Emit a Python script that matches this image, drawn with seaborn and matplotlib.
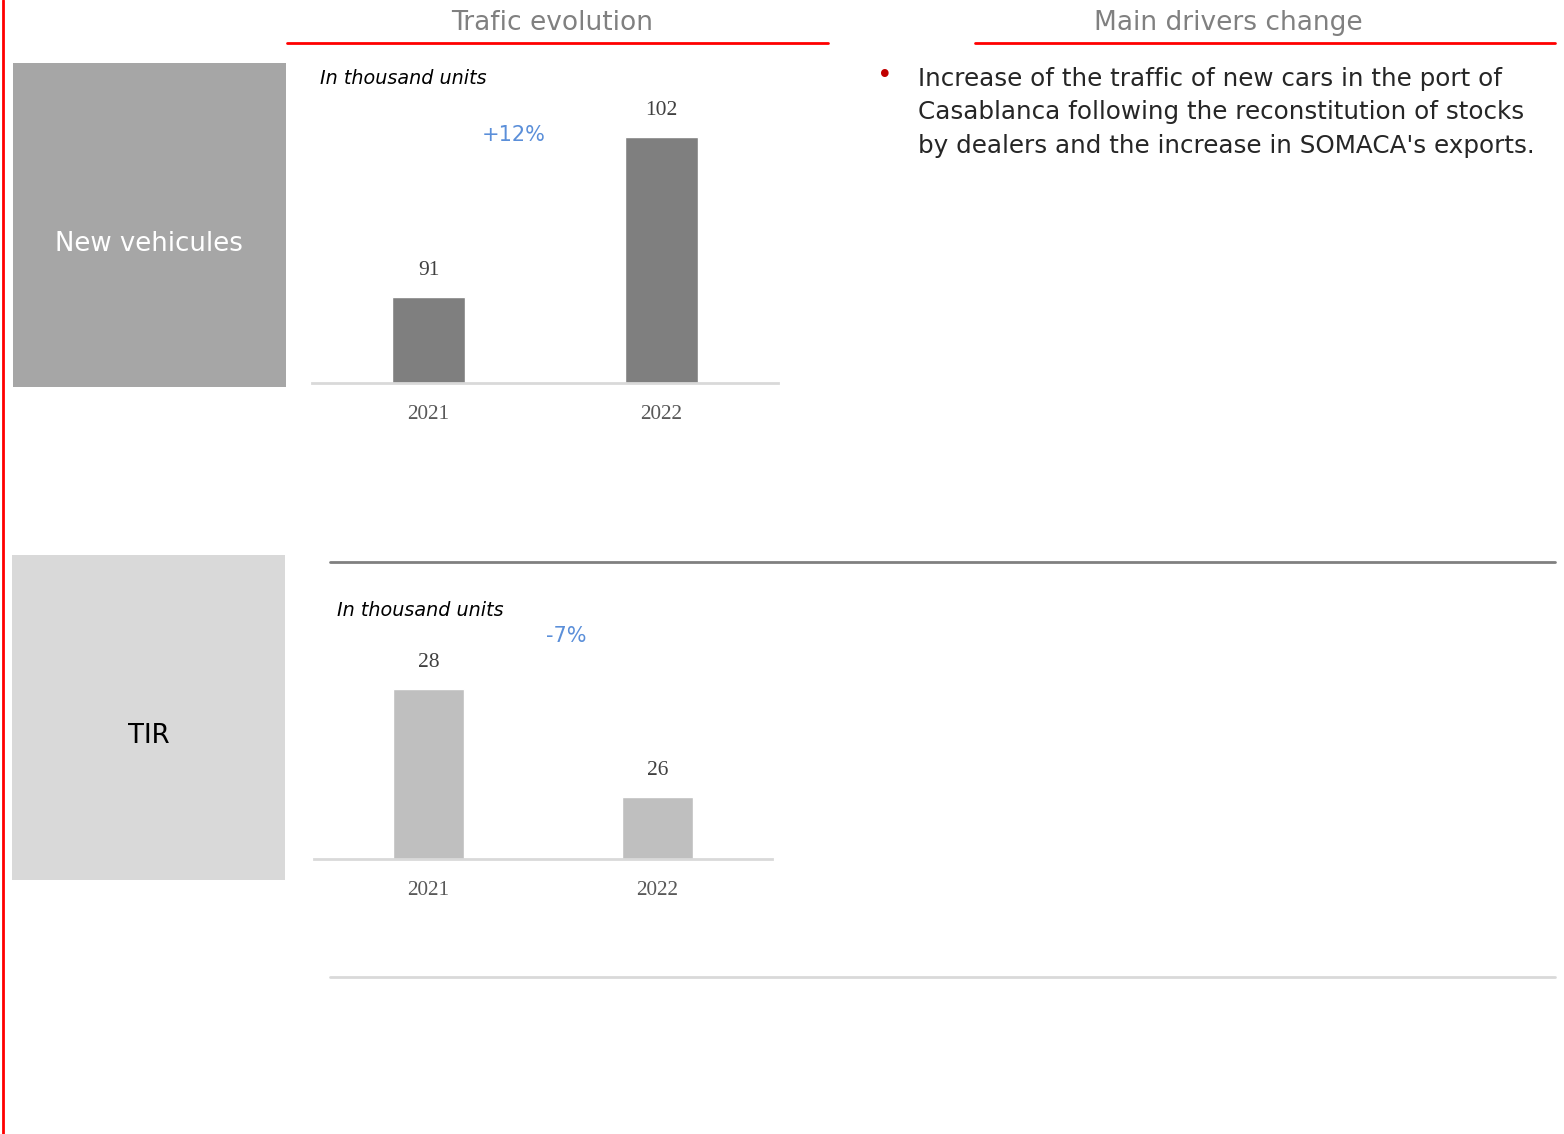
import matplotlib
matplotlib.use("Agg")
import matplotlib.pyplot as plt
import seaborn as sns
from matplotlib.patches import Rectangle
from matplotlib.lines import Line2D

sns.set_theme(style="white")
plt.rcParams['font.family'] = ['DejaVu Sans']

# ---- data ----
years = ["2021", "2022"]
new_vehicles = [91, 102]
tir = [28, 26]
new_veh_change = "+12%"
tir_change = "-7%"
header_left = "Trafic evolution"
header_right = "Main drivers change"
unit_label = "In thousand units"
row_labels = ["New vehicules", "TIR"]
driver_lines = ["Increase of the traffic of new cars in the port of",
                "Casablanca following the reconstitution of stocks",
                "by dealers and the increase in SOMACA's exports."]

W, H = 1564, 1134
fig = plt.figure(figsize=(W / 100, H / 100), dpi=100)

# background overlay in pixel coordinates
bg = fig.add_axes([0, 0, 1, 1], zorder=0)
bg.set_xlim(0, W)
bg.set_ylim(H, 0)
bg.axis("off")

RED = "#FF0000"
# left vertical red line
bg.add_line(Line2D([3, 3], [0, H], color=RED, lw=2))
# header red lines
bg.add_line(Line2D([287, 828], [43, 43], color=RED, lw=2))
bg.add_line(Line2D([975, 1555], [43, 43], color=RED, lw=2))
bg.text(552, 23, header_left, ha="center", va="center", fontsize=19, color="#808080")
bg.text(1228, 23, header_right, ha="center", va="center", fontsize=19, color="#808080")

# boxes
bg.add_patch(Rectangle((13, 63), 273, 324, color="#A6A6A6", lw=0))
bg.text(149, 244, row_labels[0], ha="center", va="center", fontsize=18.7, color="white")
bg.add_patch(Rectangle((12, 555), 273, 325, color="#D9D9D9", lw=0))
bg.text(149, 736, row_labels[1], ha="center", va="center", fontsize=18.7, color="black")

# separator lines
bg.add_line(Line2D([330, 1555], [562, 562], color="#808080", lw=2))
bg.add_line(Line2D([330, 1555], [977, 977], color="#D9D9D9", lw=2))

# unit labels
bg.text(320, 78, unit_label, ha="left", va="center", fontsize=13.8, style="italic", color="black")
bg.text(337, 611, unit_label, ha="left", va="center", fontsize=13.8, style="italic", color="black")

# change labels
BLUE = "#5B8FD9"
bg.text(514, 135, new_veh_change, ha="center", va="center", fontsize=15, color=BLUE)
bg.text(566, 636, tir_change, ha="center", va="center", fontsize=15, color=BLUE)

# drivers text
bg.text(885, 76, "•", ha="center", va="center", fontsize=19, color="#C00000")
for i, line in enumerate(driver_lines):
    bg.text(918, 79 + i * 33.5, line, ha="left", va="center", fontsize=17.75, color="#262626")


def px_axes(left, top, right, bottom):
    return fig.add_axes([left / W, 1 - bottom / H, (right - left) / W, (bottom - top) / H], zorder=2)


def draw_bars(ax, values, color, ylim):
    sns.barplot(x=years, y=values, color=color, width=0.31, saturation=1, ax=ax)
    ax.set_xlim(-0.5, 1.5)
    ax.set_ylim(*ylim)
    ax.patch.set_alpha(0)
    for s in ["top", "left", "right"]:
        ax.spines[s].set_visible(False)
    ax.spines["bottom"].set_color("#D9D9D9")
    ax.spines["bottom"].set_linewidth(2)
    ax.set_yticks([])
    ax.set_ylabel("")
    ax.set_xlabel("")
    ax.tick_params(axis="x", length=0, pad=16)
    for lab in ax.get_xticklabels():
        lab.set_fontfamily("Liberation Serif")
        lab.set_fontsize(15.3)
        lab.set_color("#595959")
    for i, v in enumerate(values):
        ax.annotate(str(v), (i, v), xytext=(0, 19), textcoords="offset points",
                    ha="center", va="center", fontsize=15.5, color="#404040",
                    family="Liberation Serif", annotation_clip=False)


ax1 = px_axes(312, 100, 778, 383)
draw_bars(ax1, new_vehicles, "#7F7F7F", (85.09, 85.09 + 283 / 14.545))

ax2 = px_axes(314, 640, 772, 859)
draw_bars(ax2, tir, "#BFBFBF", (24.85, 24.85 + 219 / 54.0))

fig.savefig("out.png", dpi=100)
